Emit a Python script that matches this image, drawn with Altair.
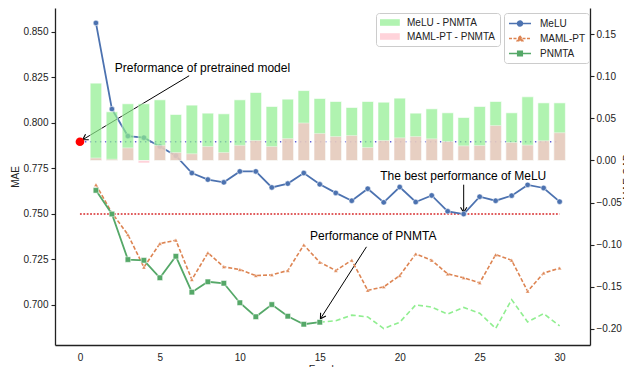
import math
import altair as alt
import pandas as pd

# ---------------- data ----------------
epochs = list(range(1, 31))

melu = [0.8548, 0.8075, 0.7927, 0.7918, 0.7870, 0.7819, 0.7724, 0.7688, 0.7673, 0.7733,
        0.7733, 0.7645, 0.7666, 0.7724, 0.7662, 0.7615, 0.7572, 0.7638, 0.7563, 0.7647,
        0.7565, 0.7601, 0.7514, 0.7499, 0.7594, 0.7572, 0.7600, 0.7659, 0.7642, 0.7567]

maml_pt = [0.7660, 0.7505, 0.7386, 0.7207, 0.7337, 0.7355, 0.7139, 0.7286, 0.7209, 0.7194,
           0.7161, 0.7165, 0.7189, 0.7329, 0.7234, 0.7189, 0.7245, 0.7080, 0.7099, 0.7161,
           0.7280, 0.7245, 0.7170, 0.7149, 0.7121, 0.7276, 0.7245, 0.7075, 0.7175, 0.7202]

pnmta = [0.7629, 0.7499, 0.7249, 0.7245, 0.7149, 0.7267, 0.7070, 0.7127, 0.7119, 0.7012,
         0.6935, 0.7002, 0.6938, 0.6894, 0.6905, 0.6913, 0.6944, 0.6934, 0.6870, 0.6905,
         0.7000, 0.6988, 0.6950, 0.6986, 0.6955, 0.6871, 0.7029, 0.6907, 0.6952, 0.6885]

gap_melu_pnmta = [0.0918, 0.0578, 0.0673, 0.0673, 0.0720, 0.0546, 0.0657, 0.0562, 0.0554, 0.0720,
                  0.0807, 0.0641, 0.0728, 0.0830, 0.0736, 0.0700, 0.0629, 0.0700, 0.0692, 0.0740,
                  0.0562, 0.0613, 0.0566, 0.0510, 0.0641, 0.0700, 0.0566, 0.0756, 0.0684, 0.0684]

gap_maml_pnmta = [0.0030, 0.0015, 0.0150, -0.0030, 0.0180, 0.0095, 0.0080, 0.0166, 0.0095, 0.0180,
                  0.0237, 0.0166, 0.0260, 0.0445, 0.0321, 0.0285, 0.0297, 0.0154, 0.0237, 0.0269,
                  0.0285, 0.0257, 0.0225, 0.0174, 0.0178, 0.0415, 0.0214, 0.0183, 0.0234, 0.0330]

pretrained_epoch = [0]
pretrained_mae = [0.7896]
best_melu_mae = [0.7499]
ref_line_start = [0]
ref_line_end = [30]
pnmta_solid_last_epoch = 15

series_names = ["MeLU", "MAML-PT", "PNMTA"]
pair_names = ["MeLU - PNMTA", "MAML-PT - PNMTA"]

x_tick_values = [0, 5, 10, 15, 20, 25, 30]
mae_tick_values = [0.700, 0.725, 0.750, 0.775, 0.800, 0.825, 0.850]
gap_tick_values = [-0.20, -0.15, -0.10, -0.05, 0.00, 0.05, 0.10, 0.15]

annot_texts = ["Preformance of pretrained model", "The best performance of MeLU", "Performance of PNMTA"]
annot_text_epoch = [7.66, 23.97, 18.34]
annot_text_mae = [0.8302, 0.7709, 0.7377]
arrow_from_epoch = [6.83, 24.0, 17.92]
arrow_from_mae = [0.8258, 0.7660, 0.7319]
arrow_to_epoch = [0.17, 24.0, 15.04]
arrow_to_mae = [0.7907, 0.7507, 0.6924]

# ---------------- styling ----------------
FONT = "Liberation Sans"
W, H = 535, 337
X_DOMAIN = [-1.56, 31.9]
MAE_DOMAIN = [0.678, 0.863]
GAP_DOMAIN = [-0.219, 0.181]

MELU_C = "#4c72b0"
MAML_C = "#dd8452"
PNMTA_C = "#55a868"
PNMTA_LIGHT = "#90ee90"
BAR_COLORS = ["#90ee90", "#ffc0cb"]
TXT = "#222222"

x_scale = alt.Scale(domain=X_DOMAIN, nice=False, zero=False)
mae_scale = alt.Scale(domain=MAE_DOMAIN, nice=False, zero=False)
gap_scale = alt.Scale(domain=GAP_DOMAIN, nice=False, zero=False)

x_axis = alt.Axis(values=x_tick_values, title="Epoch", ticks=False, labelPadding=7,
                  format="d", grid=False, titlePadding=2)
left_axis = alt.Axis(orient="left", values=mae_tick_values, format=".3f", title="MAE",
                     tickSize=4, labelPadding=3, grid=False, titlePadding=2)
right_axis = alt.Axis(orient="right", values=gap_tick_values, format=".2f", title="MAE GAP",
                      tickSize=4, labelPadding=2, grid=False, titleAngle=270,
                      titleBaseline="top", titlePadding=1)

x_enc = alt.X("epoch:Q", scale=x_scale, axis=x_axis)
y_enc = alt.Y("mae:Q", scale=mae_scale, axis=left_axis)

# ---------------- data frames ----------------
melu_df = pd.DataFrame({"epoch": epochs, "mae": melu})
maml_df = pd.DataFrame({"epoch": epochs, "mae": maml_pt})
pn_df = pd.DataFrame({"epoch": epochs, "mae": pnmta})
pn_solid = pn_df[pn_df.epoch <= pnmta_solid_last_epoch]
pn_light = pn_df[pn_df.epoch >= pnmta_solid_last_epoch]

ref_df = pd.DataFrame({
    "epoch": ref_line_start * 2,
    "epoch2": ref_line_end * 2,
    "mae": pretrained_mae + best_melu_mae,
    "kind": ["pretrained", "best"],
})

bars_df = pd.DataFrame({
    "epoch": epochs + epochs,
    "gap": gap_melu_pnmta + gap_maml_pnmta,
    "pair": [pair_names[0]] * len(epochs) + [pair_names[1]] * len(epochs),
})

annot_df = pd.DataFrame({"text": annot_texts, "epoch": annot_text_epoch, "mae": annot_text_mae})
arrows_df = pd.DataFrame({"epoch": arrow_from_epoch, "mae": arrow_from_mae,
                          "epoch2": arrow_to_epoch, "mae2": arrow_to_mae})

px_x = W / (X_DOMAIN[1] - X_DOMAIN[0])
px_y = H / (MAE_DOMAIN[1] - MAE_DOMAIN[0])
angles = []
for e0, m0, e1, m1 in zip(arrow_from_epoch, arrow_from_mae, arrow_to_epoch, arrow_to_mae):
    dx = (e1 - e0) * px_x
    dy = -(m1 - m0) * px_y
    a = math.degrees(math.atan2(dy, dx)) % 360
    angles.append(a)
heads_df = pd.DataFrame({"epoch": arrow_to_epoch, "mae": arrow_to_mae, "angle": angles})

# ---------------- layers (left axis) ----------------
pre_line = alt.Chart(ref_df[ref_df.kind == "pretrained"]).mark_rule(
    color="#5b5bd6", strokeWidth=1.4, strokeDash=[1.4, 3.6]
).encode(x=x_enc, x2="epoch2:Q", y=y_enc)

best_line = alt.Chart(ref_df[ref_df.kind == "best"]).mark_rule(
    color="#d62728", strokeWidth=1.4, strokeDash=[1.8, 1.6]
).encode(x=x_enc, x2="epoch2:Q", y=y_enc)

arrow_lines = alt.Chart(arrows_df).mark_rule(color="black", strokeWidth=1).encode(
    x=x_enc, y=y_enc, x2="epoch2:Q", y2="mae2:Q")

CHEVRON = "M-1,-0.6L0,0L-1,0.6"
heads = alt.Chart(heads_df).mark_point(
    shape=CHEVRON, filled=False, size=110, color="black", strokeWidth=1.1, opacity=1
).encode(x=x_enc, y=y_enc, angle=alt.Angle("angle:Q", scale=None))

texts = alt.Chart(annot_df).mark_text(
    font=FONT, fontSize=12, color="black", align="center", baseline="middle"
).encode(x=x_enc, y=y_enc, text="text:N")

melu_line = alt.Chart(melu_df).mark_line(color=MELU_C, strokeWidth=1.8).encode(x=x_enc, y=y_enc)
melu_pts = alt.Chart(melu_df).mark_point(
    filled=True, shape="circle", size=30, color=MELU_C, stroke="white", strokeWidth=0.5, opacity=1
).encode(x=x_enc, y=y_enc)

maml_line = alt.Chart(maml_df).mark_line(color=MAML_C, strokeWidth=1.6, strokeDash=[4, 2]).encode(x=x_enc, y=y_enc)
maml_pts = alt.Chart(maml_df).mark_point(
    filled=True, shape="triangle-up", size=16, color=MAML_C, stroke="white", strokeWidth=0.4, opacity=1
).encode(x=x_enc, y=y_enc)

pn_line = alt.Chart(pn_solid).mark_line(color=PNMTA_C, strokeWidth=1.8).encode(x=x_enc, y=y_enc)
pn_pts = alt.Chart(pn_solid).mark_point(
    filled=True, shape="square", size=30, color=PNMTA_C, stroke="white", strokeWidth=0.5, opacity=1
).encode(x=x_enc, y=y_enc)
pn_light_line = alt.Chart(pn_light).mark_line(
    color=PNMTA_LIGHT, strokeWidth=1.6, strokeDash=[5, 3]
).encode(x=x_enc, y=y_enc)

pre_pt = alt.Chart(pd.DataFrame({"epoch": pretrained_epoch, "mae": pretrained_mae})).mark_point(
    filled=True, shape="circle", size=75, color="#ff0000", opacity=1
).encode(x=x_enc, y=y_enc)

# legend-only layer for the line series (symbol = short line with the marker)
LEG_PATHS = [
    "M-1,0H3M0.55,0A0.45,0.45,0,1,0,1.45,0A0.45,0.45,0,1,0,0.55,0Z",
    "M-1,0H3M1,-0.5L1.5,0.4L0.5,0.4Z",
    "M-1,0H3M0.58,-0.42H1.42V0.42H0.58Z",
]
line_legend = alt.Legend(
    title=None, orient="none", legendX=449, legendY=5, symbolSize=121,
    labelOffset=19, rowPadding=3, padding=4, fillColor="white", strokeColor="#cccccc",
    cornerRadius=3, labelFontSize=10, labelFont=FONT, labelColor=TXT, symbolStrokeWidth=1.5,
)
legend_df = pd.DataFrame({"series": series_names, "epoch": [0, 0, 0], "mae": [0.75, 0.75, 0.75]})
ghost = alt.Chart(legend_df).transform_filter("datum.epoch > 1000").mark_point(
    filled=True, opacity=1, strokeWidth=1.5
).encode(
    x=x_enc, y=y_enc,
    fill=alt.Fill("series:N", scale=alt.Scale(domain=series_names, range=[MELU_C, MAML_C, PNMTA_C]),
                  legend=line_legend),
    stroke=alt.Stroke("series:N", scale=alt.Scale(domain=series_names, range=[MELU_C, MAML_C, PNMTA_C]),
                      legend=line_legend),
    shape=alt.Shape("series:N", scale=alt.Scale(domain=series_names, range=LEG_PATHS),
                    legend=line_legend),
    strokeDash=alt.StrokeDash("series:N", scale=alt.Scale(domain=series_names,
                                                          range=[[1, 0], [3, 1.5], [1, 0]]),
                              legend=line_legend),
)

left = alt.layer(pre_line, best_line, arrow_lines, heads, texts,
                 melu_line, maml_line, pn_line, pn_light_line,
                 melu_pts, maml_pts, pn_pts, pre_pt, ghost)

# ---------------- bars (right axis) ----------------
BAR_PATH = "M-1,-0.6H2.6V0.6H-1Z"
bar_legend = alt.Legend(
    title=None, orient="none", legendX=321, legendY=5, symbolType=BAR_PATH, symbolSize=121,
    labelOffset=16, rowPadding=3, padding=4, fillColor="white", strokeColor="#cccccc",
    cornerRadius=3, labelFontSize=10, labelFont=FONT, labelColor=TXT,
    symbolOpacity=0.7, symbolStrokeWidth=0,
)
bars = alt.Chart(bars_df).transform_calculate(
    x0="datum.epoch - 0.36", x1="datum.epoch + 0.36"
).mark_bar(opacity=0.7, stroke="white", strokeWidth=0.6).encode(
    x=alt.X("x0:Q", scale=x_scale, axis=x_axis),
    x2="x1:Q",
    y=alt.Y("gap:Q", scale=gap_scale, axis=right_axis),
    y2=alt.datum(0),
    color=alt.Color("pair:N", scale=alt.Scale(domain=pair_names, range=BAR_COLORS), legend=bar_legend),
)

chart = alt.layer(left, bars).resolve_scale(y="independent").properties(
    width=W, height=H,
    autosize=alt.AutoSizeParams(type="none"),
    padding={"left": 47, "top": 0, "right": 34, "bottom": 22},
).configure_view(stroke=None).configure_axis(
    domainColor=TXT, domainWidth=1.3, tickColor=TXT, tickWidth=1.1,
    labelColor=TXT, titleColor=TXT, labelFont=FONT, titleFont=FONT,
    labelFontSize=10, titleFontSize=10, titleFontWeight="normal",
).configure_legend(labelFont=FONT, labelFontSize=10, labelColor=TXT).configure_text(font=FONT)

chart.save("out.html", embed_options={"renderer": "svg", "actions": False})
